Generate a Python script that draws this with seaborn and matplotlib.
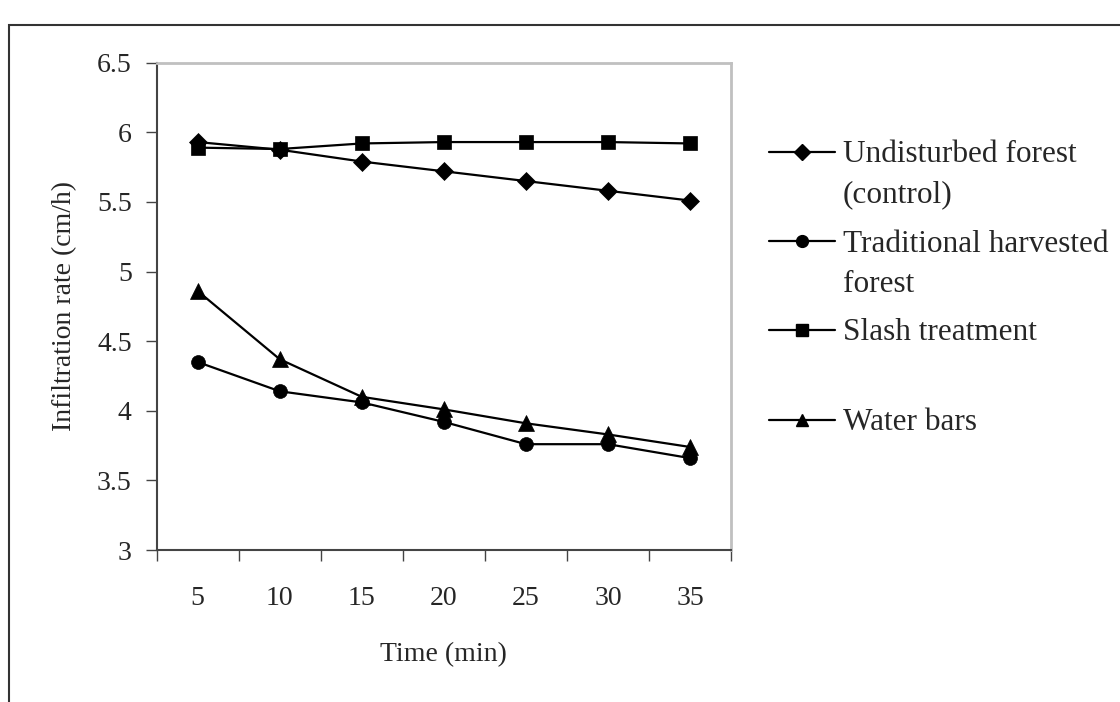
import matplotlib
matplotlib.use("Agg")
import matplotlib.pyplot as plt
from matplotlib.lines import Line2D
from matplotlib.patches import Rectangle
import seaborn as sns
import pandas as pd

times = [5, 10, 15, 20, 25, 30, 35]
undisturbed = [5.93, 5.875, 5.79, 5.72, 5.65, 5.58, 5.51]
traditional = [4.35, 4.14, 4.06, 3.92, 3.76, 3.76, 3.66]
slash = [5.89, 5.88, 5.92, 5.93, 5.93, 5.93, 5.92]
water_bars = [4.86, 4.37, 4.10, 4.01, 3.91, 3.83, 3.74]

series_names = ["Undisturbed forest (control)", "Traditional harvested forest",
                "Slash treatment", "Water bars"]
series_values = [undisturbed, traditional, slash, water_bars]
legend_labels = ["Undisturbed forest\n(control)", "Traditional harvested\nforest",
                 "Slash treatment", "Water bars"]
y_ticks = [3, 3.5, 4, 4.5, 5, 5.5, 6, 6.5]
y_tick_labels = ["3", "3.5", "4", "4.5", "5", "5.5", "6", "6.5"]

rows = []
for name, vals in zip(series_names, series_values):
    for i, (t, v) in enumerate(zip(times, vals)):
        rows.append({"pos": i, "time": t, "value": v, "series": name})
df = pd.DataFrame(rows)

sns.set_theme(style="white")
plt.rcParams["font.family"] = ["Liberation Serif", "DejaVu Serif"]
FS = 20
LFS = 22.5

fig = plt.figure(figsize=(11.2, 7.02), dpi=100)
W, H = 1120, 702
L, R, T, B = 156.7, 731, 62.7, 550
ax = fig.add_axes([L / W, 1 - B / H, (R - L) / W, (B - T) / H])

markers = {series_names[0]: "D", series_names[1]: "o",
           series_names[2]: "s", series_names[3]: "^"}
msizes = {series_names[0]: 9, series_names[1]: 10,
          series_names[2]: 10.5, series_names[3]: 11}
for name in series_names:
    sub = df[df["series"] == name]
    sns.lineplot(data=sub, x="pos", y="value", ax=ax, color="black",
                 marker=markers[name], markersize=msizes[name],
                 markeredgecolor="black", markerfacecolor="black",
                 markeredgewidth=0.5,
                 linewidth=1.6, legend=False, errorbar=None)

ax.set_xlim(-0.5, len(times) - 0.5)
ax.set_ylim(3, 6.5)
ax.set_xticks(range(len(times)))
ax.set_xticklabels([str(t) for t in times], fontsize=FS)
ax.set_xticks([i - 0.5 for i in range(len(times) + 1)], minor=True)
ax.set_yticks(y_ticks)
ax.set_yticklabels(y_tick_labels, fontsize=FS)
ax.tick_params(axis="x", which="major", length=0, pad=26)
ax.tick_params(axis="x", which="minor", length=8, width=1, color="#444444", direction="out", bottom=True)
ax.tick_params(axis="y", which="major", length=8, width=1, color="#444444", direction="out", left=True, pad=10)
ax.set_xlabel("Time (min)", fontsize=FS, labelpad=22)
ax.set_ylabel("Infiltration rate (cm/h)", fontsize=FS, labelpad=14)

for s in ["left", "bottom"]:
    ax.spines[s].set_color("#444444")
    ax.spines[s].set_linewidth(1.5)
for s in ["top", "right"]:
    ax.spines[s].set_color("#c0c0c0")
    ax.spines[s].set_linewidth(2)

# legend entries (one per series, positioned as in original)
legend_y = [155, 244, 333, 423]
for name, lab, y in zip(series_names, legend_labels, legend_y):
    h = Line2D([], [], color="black", linewidth=1.6, marker=markers[name],
               markersize=msizes[name] * 0.85, markerfacecolor="black", markeredgecolor="black")
    first, *rest = lab.split("\n")
    fig.legend(handles=[h], labels=[first], loc="center left",
               bbox_to_anchor=(769 / W, 1 - y / H), frameon=False,
               fontsize=LFS, handlelength=2.1, handletextpad=0.26,
               borderpad=0, borderaxespad=0)
    if rest:
        fig.text(843 / W, 1 - (y + 40) / H, rest[0], fontsize=LFS,
                 ha="left", va="center")

fig.patches.append(Rectangle((9 / W, -0.1), 1.2, (1 - 25 / H) + 0.1,
                             transform=fig.transFigure, fill=False,
                             edgecolor="#333333", linewidth=1.5))

fig.savefig("out.png", dpi=100)
